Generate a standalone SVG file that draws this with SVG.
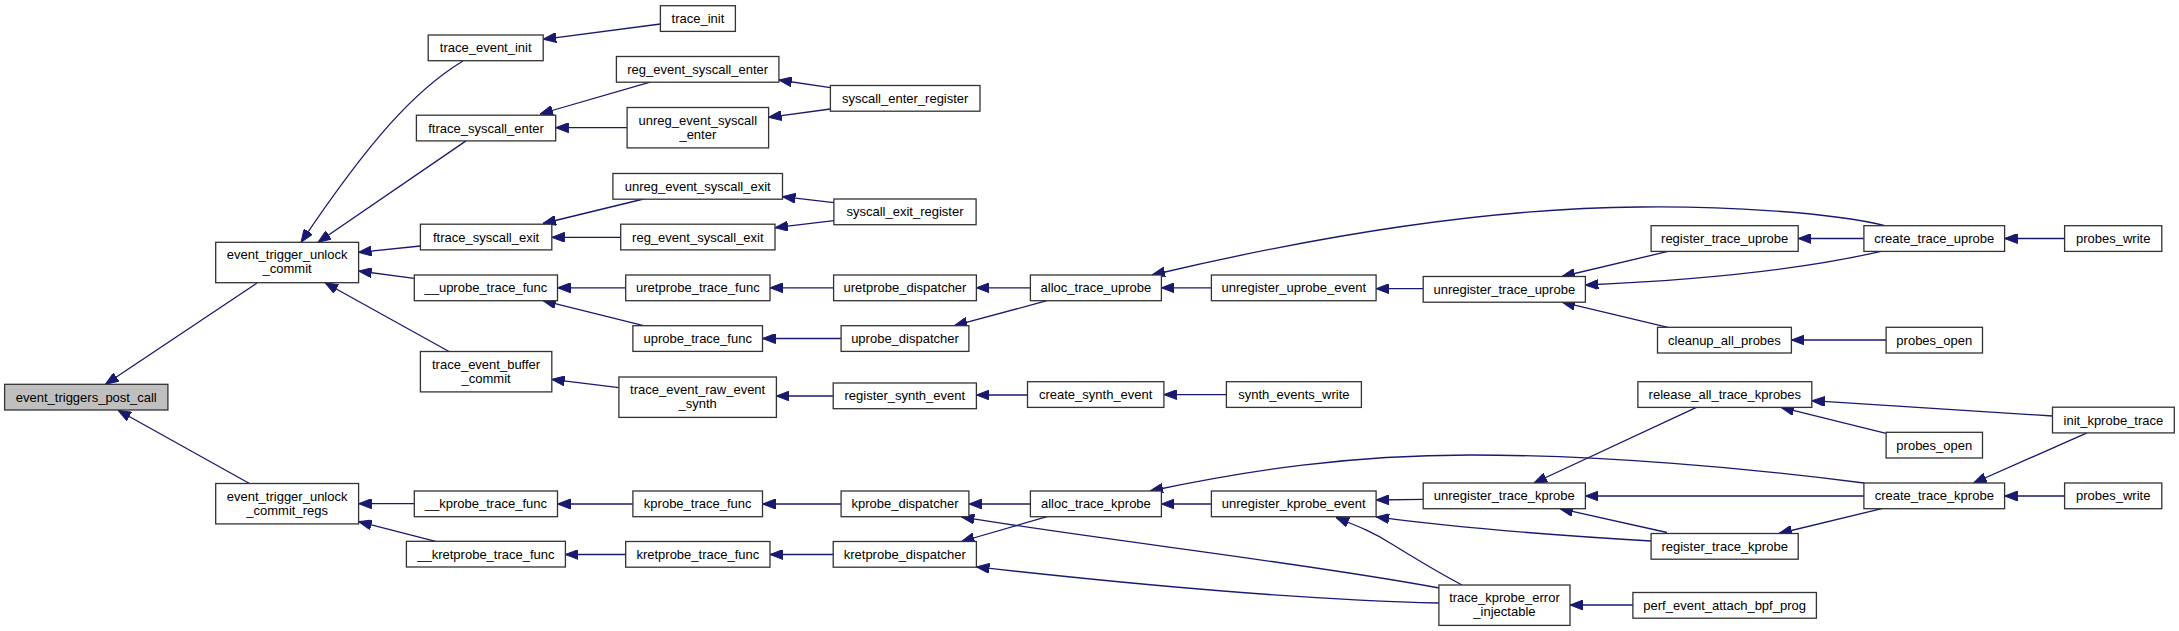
<svg xmlns="http://www.w3.org/2000/svg" width="2179" height="631" viewBox="0 0 2179 631">
<style>
.node rect{fill:#ffffff;stroke:#333333;stroke-width:1.3}
.node.root rect{fill:#bfbfbf}
.node text{font-family:"Liberation Sans",Arial,Helvetica,sans-serif;font-size:13px;fill:#000;text-anchor:middle}
.edges path{fill:none;stroke:#191970;stroke-width:1.3;marker-end:url(#ah)}
</style>
<defs>
<marker id="ah" markerWidth="13" markerHeight="10" refX="13" refY="5" orient="auto" markerUnits="userSpaceOnUse">
<path d="M0,0 L13,5 L0,10 z" fill="#191970" stroke="#191970" stroke-width="1"/>
</marker>
</defs>
<rect x="0" y="0" width="2179" height="631" fill="#ffffff"/>
<g class="edges" id="edges">
<path d="M257,283 L105.5,384.3"/>
<path d="M249,483.3 L118,410.2"/>
<path d="M463,61 C415,90 370,140 301,242.3"/>
<path d="M466,140.9 L318,242.3"/>
<path d="M420.4,246 L358.6,252.3"/>
<path d="M414.3,278.3 L358.6,271"/>
<path d="M449,351.5 L325,282.7"/>
<path d="M414.3,503.7 L358.6,503.7"/>
<path d="M435.7,541.3 L358.6,521.7"/>
<path d="M660.4,24 L543.2,39.3"/>
<path d="M651.8,81.7 L540,114"/>
<path d="M627.1,127.7 L555.7,127.7"/>
<path d="M830.4,87.7 L778.9,80"/>
<path d="M830.4,109 L768.6,117.3"/>
<path d="M643.6,199 L543,223.5"/>
<path d="M620.7,237.3 L551.8,237.3"/>
<path d="M833.9,202.7 L782.5,196.7"/>
<path d="M833.9,220.7 L775,227.7"/>
<path d="M625.7,287.8 L557.5,287.8"/>
<path d="M643.6,325.7 L543,300.7"/>
<path d="M833.6,287.8 L770,287.8"/>
<path d="M1030.4,287.8 L976.4,287.8"/>
<path d="M841.1,338.5 L762.5,338.5"/>
<path d="M1047,300.7 L954.3,325.7"/>
<path d="M618.9,387.7 L551.8,379.3"/>
<path d="M833.2,396 L776.4,396"/>
<path d="M1027.5,395 L976.4,395"/>
<path d="M1226.4,394.6 L1163.9,394.6"/>
<path d="M632.9,504 L557.5,504"/>
<path d="M625.7,554.5 L565.4,554.5"/>
<path d="M841.1,504 L762.5,504"/>
<path d="M833.2,554.5 L770,554.5"/>
<path d="M1030.4,504 L968.9,504"/>
<path d="M1047,516.7 L961.4,541.5"/>
<path d="M1439,588 C1300,562 1100,540 961.4,516.9"/>
<path d="M1439,603 C1300,600 1120,583 976.4,566.9"/>
<path d="M1885,225.7 C1830,212 1720,206 1640,207 C1480,208 1300,240 1152,275"/>
<path d="M1211.4,287.8 L1161.4,287.8"/>
<path d="M1423.2,288.7 L1376.1,288.7"/>
<path d="M1668,251.4 L1562,276.5"/>
<path d="M1881,251.4 C1800,270 1700,280 1585.4,285"/>
<path d="M1668,327.3 L1562,302.2"/>
<path d="M1863.9,238.5 L1798.2,238.5"/>
<path d="M2064.6,238.5 L2004.6,238.5"/>
<path d="M1886.1,340 L1791.4,340"/>
<path d="M1864,483 C1750,468 1600,455 1470,455 C1350,455 1250,470 1150,491"/>
<path d="M1211.4,504 L1161.4,504"/>
<path d="M1423.2,499.3 L1376.1,500"/>
<path d="M1651,541 C1550,535 1450,527 1376.1,516.9"/>
<path d="M1462,585 C1430,568 1410,555 1390,543 C1375,533 1360,527 1336,517.5"/>
<path d="M1697,407.2 L1534,483"/>
<path d="M1864,496 L1585.4,496"/>
<path d="M1667,532.5 L1560,508.7"/>
<path d="M2052.5,416 L1811.8,400.7"/>
<path d="M1886.1,433.3 L1781,407.4"/>
<path d="M2087,432.9 L1973.6,483"/>
<path d="M2064.6,496 L2004.6,496"/>
<path d="M1881.8,508.7 L1778.9,533.5"/>
<path d="M1632.9,605 L1570,605"/>
</g>
<g class="node root" id="n_event_triggers_post_call"><rect x="4.6" y="384.3" width="163.3" height="25.7"/><text x="86.25" y="401.6">event_triggers_post_call</text></g>
<g class="node" id="n_event_trigger_unlock_commit"><rect x="215.7" y="242.3" width="142.9" height="40.4"/><text x="287.15" y="259.3">event_trigger_unlock</text><text x="287.15" y="273.3">_commit</text></g>
<g class="node" id="n_event_trigger_unlock_commit_regs"><rect x="215.7" y="483.5" width="142.9" height="40.4"/><text x="287.15" y="500.5">event_trigger_unlock</text><text x="287.15" y="514.5">_commit_regs</text></g>
<g class="node" id="n_trace_event_init"><rect x="428.2" y="35" width="115" height="25.7"/><text x="485.7" y="52.3">trace_event_init</text></g>
<g class="node" id="n_ftrace_syscall_enter"><rect x="416.4" y="115.2" width="139.3" height="25.7"/><text x="486.05" y="132.5">ftrace_syscall_enter</text></g>
<g class="node" id="n_ftrace_syscall_exit"><rect x="420.4" y="224.2" width="131.4" height="25.7"/><text x="486.1" y="241.5">ftrace_syscall_exit</text></g>
<g class="node" id="n___uprobe_trace_func"><rect x="414.3" y="275" width="143.2" height="25.7"/><text x="485.9" y="292.3">__uprobe_trace_func</text></g>
<g class="node" id="n_trace_event_buffer_commit"><rect x="420.4" y="351.5" width="131.4" height="40.4"/><text x="486.1" y="368.5">trace_event_buffer</text><text x="486.1" y="382.5">_commit</text></g>
<g class="node" id="n___kprobe_trace_func"><rect x="414.3" y="491" width="143.2" height="25.7"/><text x="485.9" y="508.3">__kprobe_trace_func</text></g>
<g class="node" id="n___kretprobe_trace_func"><rect x="406.4" y="541.3" width="159" height="25.7"/><text x="485.9" y="558.6">__kretprobe_trace_func</text></g>
<g class="node" id="n_trace_init"><rect x="660.4" y="5.7" width="75" height="25.7"/><text x="697.9" y="23">trace_init</text></g>
<g class="node" id="n_reg_event_syscall_enter"><rect x="616.4" y="56.5" width="162.5" height="25.7"/><text x="697.65" y="73.8">reg_event_syscall_enter</text></g>
<g class="node" id="n_unreg_event_syscall_enter"><rect x="627.1" y="107.5" width="141.5" height="40.4"/><text x="697.85" y="124.5">unreg_event_syscall</text><text x="697.85" y="138.5">_enter</text></g>
<g class="node" id="n_syscall_enter_register"><rect x="830.4" y="85.5" width="149.6" height="25.7"/><text x="905.2" y="102.8">syscall_enter_register</text></g>
<g class="node" id="n_unreg_event_syscall_exit"><rect x="612.9" y="173.5" width="169.6" height="25.7"/><text x="697.7" y="190.8">unreg_event_syscall_exit</text></g>
<g class="node" id="n_reg_event_syscall_exit"><rect x="620.7" y="224.2" width="154.3" height="25.7"/><text x="697.85" y="241.5">reg_event_syscall_exit</text></g>
<g class="node" id="n_syscall_exit_register"><rect x="833.9" y="199" width="142.2" height="25.7"/><text x="905" y="216.3">syscall_exit_register</text></g>
<g class="node" id="n_uretprobe_trace_func"><rect x="625.7" y="275" width="144.3" height="25.7"/><text x="697.85" y="292.3">uretprobe_trace_func</text></g>
<g class="node" id="n_uprobe_trace_func"><rect x="632.9" y="325.7" width="129.6" height="25.7"/><text x="697.7" y="343">uprobe_trace_func</text></g>
<g class="node" id="n_trace_event_raw_event_synth"><rect x="618.9" y="377" width="157.5" height="40.4"/><text x="697.65" y="394">trace_event_raw_event</text><text x="697.65" y="408">_synth</text></g>
<g class="node" id="n_kprobe_trace_func"><rect x="632.9" y="491" width="129.6" height="25.7"/><text x="697.7" y="508.3">kprobe_trace_func</text></g>
<g class="node" id="n_kretprobe_trace_func"><rect x="625.7" y="541.5" width="144.3" height="25.7"/><text x="697.85" y="558.8">kretprobe_trace_func</text></g>
<g class="node" id="n_uretprobe_dispatcher"><rect x="833.6" y="275" width="142.8" height="25.7"/><text x="905" y="292.3">uretprobe_dispatcher</text></g>
<g class="node" id="n_uprobe_dispatcher"><rect x="841.1" y="325.7" width="127.8" height="25.7"/><text x="905" y="343">uprobe_dispatcher</text></g>
<g class="node" id="n_register_synth_event"><rect x="833.2" y="383" width="143.2" height="25.7"/><text x="904.8" y="400.3">register_synth_event</text></g>
<g class="node" id="n_kprobe_dispatcher"><rect x="841.1" y="491" width="127.8" height="25.7"/><text x="905" y="508.3">kprobe_dispatcher</text></g>
<g class="node" id="n_kretprobe_dispatcher"><rect x="833.2" y="541.5" width="143.2" height="25.7"/><text x="904.8" y="558.8">kretprobe_dispatcher</text></g>
<g class="node" id="n_alloc_trace_uprobe"><rect x="1030.4" y="275" width="131" height="25.7"/><text x="1095.9" y="292.3">alloc_trace_uprobe</text></g>
<g class="node" id="n_create_synth_event"><rect x="1027.5" y="381.7" width="136.4" height="25.7"/><text x="1095.7" y="399">create_synth_event</text></g>
<g class="node" id="n_alloc_trace_kprobe"><rect x="1030.4" y="491" width="131" height="25.7"/><text x="1095.9" y="508.3">alloc_trace_kprobe</text></g>
<g class="node" id="n_unregister_uprobe_event"><rect x="1211.4" y="275" width="164.7" height="25.7"/><text x="1293.75" y="292.3">unregister_uprobe_event</text></g>
<g class="node" id="n_synth_events_write"><rect x="1226.4" y="381.7" width="135" height="25.7"/><text x="1293.9" y="399">synth_events_write</text></g>
<g class="node" id="n_unregister_kprobe_event"><rect x="1211.4" y="491" width="164.7" height="25.7"/><text x="1293.75" y="508.3">unregister_kprobe_event</text></g>
<g class="node" id="n_unregister_trace_uprobe"><rect x="1423.2" y="276.5" width="162.2" height="25.7"/><text x="1504.3" y="293.8">unregister_trace_uprobe</text></g>
<g class="node" id="n_unregister_trace_kprobe"><rect x="1423.2" y="483" width="162.2" height="25.7"/><text x="1504.3" y="500.3">unregister_trace_kprobe</text></g>
<g class="node" id="n_trace_kprobe_error_injectable"><rect x="1438.9" y="585" width="131.1" height="40.4"/><text x="1504.45" y="602">trace_kprobe_error</text><text x="1504.45" y="616">_injectable</text></g>
<g class="node" id="n_register_trace_uprobe"><rect x="1651.1" y="225.7" width="147.1" height="25.7"/><text x="1724.65" y="243">register_trace_uprobe</text></g>
<g class="node" id="n_cleanup_all_probes"><rect x="1657.5" y="327.3" width="133.9" height="25.7"/><text x="1724.45" y="344.6">cleanup_all_probes</text></g>
<g class="node" id="n_release_all_trace_kprobes"><rect x="1637.9" y="381.7" width="173.9" height="25.7"/><text x="1724.85" y="399">release_all_trace_kprobes</text></g>
<g class="node" id="n_register_trace_kprobe"><rect x="1651.1" y="533.5" width="147.1" height="25.7"/><text x="1724.65" y="550.8">register_trace_kprobe</text></g>
<g class="node" id="n_perf_event_attach_bpf_prog"><rect x="1632.9" y="592.5" width="183.5" height="25.7"/><text x="1724.65" y="609.8">perf_event_attach_bpf_prog</text></g>
<g class="node" id="n_create_trace_uprobe"><rect x="1863.9" y="225.7" width="140.7" height="25.7"/><text x="1934.25" y="243">create_trace_uprobe</text></g>
<g class="node" id="n_probes_open_u"><rect x="1886.1" y="327.3" width="96.4" height="25.7"/><text x="1934.3" y="344.6">probes_open</text></g>
<g class="node" id="n_probes_open_k"><rect x="1886.1" y="432.3" width="96.4" height="25.7"/><text x="1934.3" y="449.6">probes_open</text></g>
<g class="node" id="n_create_trace_kprobe"><rect x="1863.9" y="483" width="140.7" height="25.7"/><text x="1934.25" y="500.3">create_trace_kprobe</text></g>
<g class="node" id="n_probes_write_u"><rect x="2064.6" y="225.7" width="97.2" height="25.7"/><text x="2113.2" y="243">probes_write</text></g>
<g class="node" id="n_init_kprobe_trace"><rect x="2052.5" y="407.2" width="121.8" height="25.7"/><text x="2113.4" y="424.5">init_kprobe_trace</text></g>
<g class="node" id="n_probes_write_k"><rect x="2064.6" y="483" width="97.2" height="25.7"/><text x="2113.2" y="500.3">probes_write</text></g>
</svg>
